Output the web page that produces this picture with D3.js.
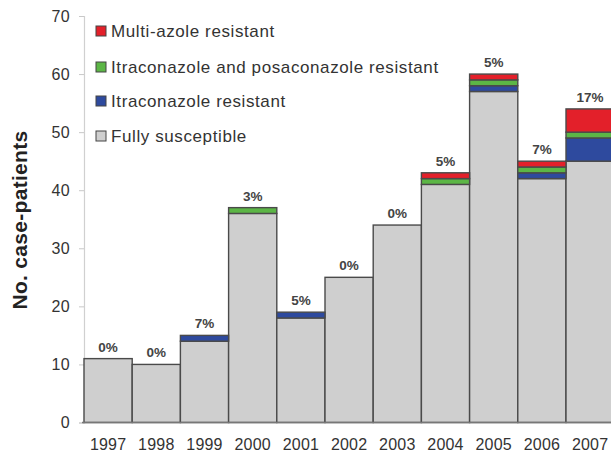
<!DOCTYPE html>
<html>
<head>
<meta charset="utf-8">
<script src="https://cdn.jsdelivr.net/npm/d3@7"></script>
<style>
  body { margin: 0; background: #fff; }
  svg { display: block; font-family: "Liberation Sans", Arial, sans-serif; }
</style>
</head>
<body>
<div id="chart"></div>
<script>
// data
const years = ["1997", "1998", "1999", "2000", "2001", "2002", "2003", "2004", "2005", "2006", "2007"];
const fullySusceptible = [11, 10, 14, 36, 18, 25, 34, 41, 57, 42, 45];
const itraResistant = [0, 0, 1, 0, 1, 0, 0, 0, 1, 1, 4];
const itraPosaResistant = [0, 0, 0, 1, 0, 0, 0, 1, 1, 1, 1];
const multiAzoleResistant = [0, 0, 0, 0, 0, 0, 0, 1, 1, 1, 4];
const pctLabels = ["0%", "0%", "7%", "3%", "5%", "0%", "0%", "5%", "5%", "7%", "17%"];
const yTicks = [0, 10, 20, 30, 40, 50, 60, 70];

const seriesKeys = ["susc", "itra", "itraPosa", "multi"];
const seriesNames = {
    multi: "Multi-azole resistant",
    itraPosa: "Itraconazole and posaconazole resistant",
    itra: "Itraconazole resistant",
    susc: "Fully susceptible"
};
const colors = { susc: "#cfcfcf", itra: "#2e4a9e", itraPosa: "#5cb646", multi: "#e3202a" };

const rows = years.map((y, i) => ({
    year: y,
    susc: fullySusceptible[i],
    itra: itraResistant[i],
    itraPosa: itraPosaResistant[i],
    multi: multiAzoleResistant[i],
    pct: pctLabels[i]
}));

const width = 611, height = 452;
const plotLeft = 84, plotBottom = 422.5, plotTop = 16;

const svg = d3.select("#chart").append("svg")
    .attr("width", width)
    .attr("height", height);

const x = d3.scaleBand()
    .domain(years)
    .range([plotLeft, plotLeft + 48.2 * years.length])
    .padding(0);

const y = d3.scaleLinear()
    .domain([0, 70])
    .range([plotBottom, plotTop]);

// y axis
const yAxis = svg.append("g")
    .attr("transform", `translate(${plotLeft},0)`)
    .call(d3.axisLeft(y).tickValues(yTicks).tickSize(5).tickPadding(9));
yAxis.select(".domain").attr("stroke", "#d0d0d0").attr("stroke-width", 1.2);
yAxis.selectAll(".tick line").attr("stroke", "#c8c8c8");
yAxis.selectAll(".tick text")
    .attr("fill", "#333")
    .style("font-size", "16px")
    .style("letter-spacing", "0.3px");

// stacked bars
const stack = d3.stack().keys(seriesKeys)(rows);

svg.append("g").selectAll("g")
    .data(stack)
    .join("g")
    .attr("fill", d => colors[d.key])
    .selectAll("rect")
    .data(d => d.filter(p => p[1] > p[0]))
    .join("rect")
    .attr("x", d => x(d.data.year))
    .attr("width", x.bandwidth())
    .attr("y", d => y(d[1]))
    .attr("height", d => y(d[0]) - y(d[1]))
    .attr("stroke", "#4a4a4a")
    .attr("stroke-width", 1.4);

// baseline
svg.append("line")
    .attr("x1", plotLeft - 2).attr("x2", width)
    .attr("y1", plotBottom).attr("y2", plotBottom)
    .attr("stroke", "#777")
    .attr("stroke-width", 1.5);

// x labels
svg.append("g").selectAll("text")
    .data(years)
    .join("text")
    .attr("x", d => x(d) + x.bandwidth() / 2)
    .attr("y", 450)
    .attr("text-anchor", "middle")
    .attr("fill", "#333")
    .style("font-size", "16px")
    .style("letter-spacing", "0.2px")
    .text(d => d);

// percent labels
svg.append("g").selectAll("text")
    .data(rows)
    .join("text")
    .attr("x", d => x(d.year) + x.bandwidth() / 2)
    .attr("y", d => y(d.susc + d.itra + d.itraPosa + d.multi) - 7)
    .attr("text-anchor", "middle")
    .attr("fill", "#444")
    .style("font-size", "13.5px")
    .style("font-weight", "bold")
    .text(d => d.pct);

// y title
svg.append("text")
    .attr("transform", "translate(27,220) rotate(-90)")
    .attr("text-anchor", "middle")
    .attr("fill", "#222")
    .style("font-size", "21px")
    .style("font-weight", "bold")
    .style("letter-spacing", "0.3px")
    .text("No. case-patients");

// legend
const legendKeys = ["multi", "itraPosa", "itra", "susc"];
const legendY = [31, 67, 101, 136];
const legend = svg.append("g").selectAll("g")
    .data(legendKeys)
    .join("g")
    .attr("transform", (d, i) => `translate(96,${legendY[i]})`);
legend.append("rect")
    .attr("x", 0).attr("y", -5)
    .attr("width", 10).attr("height", 10)
    .attr("fill", d => colors[d])
    .attr("stroke", "#444")
    .attr("stroke-width", 1);
legend.append("text")
    .attr("x", 15)
    .attr("y", 6)
    .attr("fill", "#333")
    .style("font-size", "17px")
    .style("letter-spacing", "0.6px")
    .text(d => seriesNames[d]);
</script>
</body>
</html>
